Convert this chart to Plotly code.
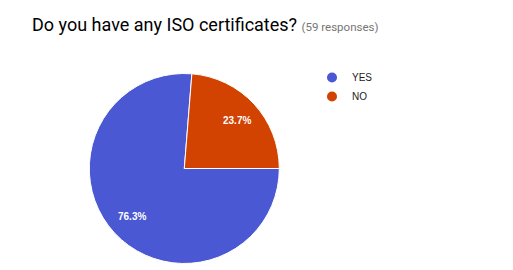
import math
import plotly.graph_objects as go

labels = ["YES", "NO"]
values = [45, 14]
colors = ["#4a58d4", "#d24302"]
title_text = "Do you have any ISO certificates?"
subtitle_text = "(59 responses)"

W, H = 513, 270
cx, cy, r = 184.3, 168.5, 95
start_deg = 90

fig = go.Figure()
fig.add_trace(go.Pie(
    labels=labels, values=values, sort=False, direction="clockwise", rotation=start_deg,
    marker=dict(colors=colors, line=dict(color="white", width=1)),
    textinfo="none",
    showlegend=False, hoverinfo="label+percent",
    domain=dict(x=[(cx - r) / W, (cx + r) / W], y=[1 - (cy + r) / H, 1 - (cy - r) / H]),
))
for lab, col in zip(labels, colors):
    fig.add_trace(go.Scatter(x=[None], y=[None], mode="markers", name=lab,
                             marker=dict(color=col, size=10, symbol="circle")))

# percentage labels placed at 0.75 r along each slice's mid-angle
annotations = []
total = sum(values)
acc = 0
for v in values:
    mid = start_deg + (acc + v / 2) / total * 360
    acc += v
    t = math.radians(mid)
    px = cx + 0.75 * r * math.sin(t)
    py = cy - 0.75 * r * math.cos(t)
    annotations.append(dict(
        text=f"{v / total * 100:.1f}%", x=px / W, y=1 - py / H, xref="paper", yref="paper",
        xanchor="center", yanchor="middle", showarrow=False,
        font=dict(size=10, color="white", family="Liberation Sans", weight="bold")))

annotations.append(dict(
    text=f"{title_text} <span style='font-size:11.5px;color:#757575'>{subtitle_text}</span>",
    x=30 / W, y=1 - 12 / H, xref="paper", yref="paper", xanchor="left", yanchor="top",
    showarrow=False, font=dict(size=18, color="#000000", family="Roboto")))

fig.update_layout(
    width=W, height=H, margin=dict(l=0, r=0, t=0, b=0),
    paper_bgcolor="white", plot_bgcolor="white",
    xaxis=dict(visible=False), yaxis=dict(visible=False),
    font=dict(family="Roboto", color="#212121"),
    legend=dict(x=312 / W, y=1 - 63 / H, xanchor="left", yanchor="top",
                font=dict(size=10, color="#222222", family="Liberation Sans"),
                itemwidth=30, tracegroupgap=0, bgcolor="rgba(0,0,0,0)"),
    annotations=annotations,
)
fig.write_html("out.html")
